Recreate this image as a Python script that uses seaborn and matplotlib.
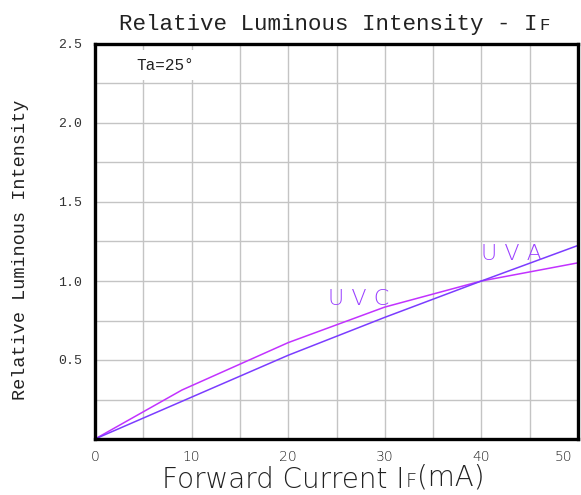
import numpy as np
import pandas as pd
import matplotlib
matplotlib.use('Agg')
import matplotlib.pyplot as plt
import matplotlib.transforms as mtransforms
import seaborn as sns

# values
uvc_current = [0, 9, 20, 30, 40, 50]
uvc_intensity = [0, 0.31, 0.61, 0.835, 1.0, 1.115]
uva_current = [0, 10, 20, 30, 40, 50]
uva_intensity = [0, 0.265, 0.53, 0.77, 1.0, 1.225]

x_ticks = [0, 10, 20, 30, 40, 50]
y_ticks = [0.5, 1.0, 1.5, 2.0, 2.5]
y_tick_labels = ['0.5', '1.0', '1.5', '2.0', '2.5']

uvc_color = '#c232ff'
uva_color = '#7b3cff'
label_color = '#9a40ff'

serif_font = 'Liberation Mono'
thin_font = 'DejaVu Sans'

sns.set_style('white')

df_uvc = pd.DataFrame({'current': uvc_current, 'intensity': uvc_intensity})
df_uva = pd.DataFrame({'current': uva_current, 'intensity': uva_intensity})

fig = plt.figure(figsize=(5.81, 4.95), dpi=100)
ax = fig.add_axes([95 / 581, 56 / 495, 483 / 581, 395 / 495])

sns.lineplot(data=df_uvc, x='current', y='intensity', color=uvc_color, lw=1.1, ax=ax)
sns.lineplot(data=df_uva, x='current', y='intensity', color=uva_color, lw=1.1, ax=ax)

ax.set_xlim(0, 50)
ax.set_ylim(0, 2.5)
ax.set_xticks(x_ticks)
ax.set_xticks(np.arange(0, 51, 5), minor=True)
ax.set_yticks(y_ticks)
ax.set_yticklabels(y_tick_labels)
ax.set_yticks(np.arange(0, 2.51, 0.25), minor=True)
ax.grid(True, which='both', color='#c4c4c4', lw=1.0)
ax.tick_params(which='both', length=0)
ax.tick_params(axis='y', pad=9)
ax.tick_params(axis='x', pad=8)
for lab in ax.get_yticklabels():
    lab.set_fontfamily(serif_font)
    lab.set_fontsize(9.5)
    lab.set_color('#333333')
for lab in ax.get_xticklabels():
    lab.set_fontfamily(thin_font)
    lab.set_fontweight('light')
    lab.set_fontsize(10)
    lab.set_color('#222222')
# last label sits a bit inside the figure
last = ax.get_xticklabels()[-1]
last.set_transform(last.get_transform() + mtransforms.ScaledTranslation(-0.15, 0, fig.dpi_scale_trans))

for s in ax.spines.values():
    s.set_visible(True)
    s.set_color('black')
    s.set_linewidth(2.4)

ax.set_xlabel('')
ax.set_ylabel('')

# y label
fig.text(21 / 581, 1 - 250 / 495, 'Relative Luminous Intensity', rotation=90,
         ha='center', va='center', family=serif_font, fontsize=13.3, color='#222222')

# title "Relative Luminous Intensity - I" + small F
t1 = fig.text(119 / 581, 1 - 30 / 495, 'Relative Luminous Intensity - I',
              ha='left', va='baseline', family=serif_font, fontsize=16.2, color='#222222')
ax.annotate('F', xy=(1, 0), xycoords=t1, xytext=(1, 3.6), textcoords='offset points',
            ha='left', va='baseline', family=serif_font, fontsize=12.5, color='#222222')

# x label "Forward Current I" + small F + "(mA)"
x1 = fig.text(162 / 581, 1 - 488 / 495, 'Forward Current I',
              ha='left', va='baseline', family=thin_font, fontweight='light',
              fontsize=20, color='#222222')
x2 = ax.annotate('F', xy=(1, 0), xycoords=x1, xytext=(1, 4.8), textcoords='offset points',
                 ha='left', va='baseline', family=thin_font, fontweight='light',
                 fontsize=14, color='#222222')
ax.annotate('(mA)', xy=(1, 0), xycoords=x2, xytext=(0, 0), textcoords='offset points',
            ha='left', va='bottom', family=thin_font, fontweight='light',
            fontsize=20, color='#222222')

ax.text(7.3, 2.367, 'Ta=25°', ha='center', va='center', family=serif_font,
        fontsize=11.5, color='#222222',
        bbox=dict(facecolor='white', edgecolor='none', boxstyle='square,pad=0.45'))

ax.text(27.3, 0.883, 'U V C', ha='center', va='center', family=thin_font,
        fontweight='light', fontsize=16, color=label_color)
ax.text(43.1, 1.172, 'U V A', ha='center', va='center', family=thin_font,
        fontweight='light', fontsize=16, color=label_color)

plt.savefig('out.png', dpi=100)
